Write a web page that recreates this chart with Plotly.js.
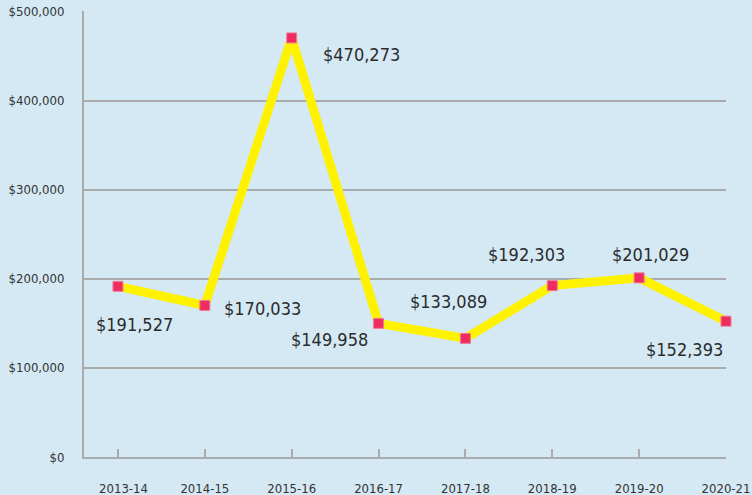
<!DOCTYPE html>
<html>
<head>
<meta charset="utf-8">
<script src="https://cdn.plot.ly/plotly-3.0.1.min.js"></script>
<style>html,body{margin:0;padding:0;background:#d4e9f4;}#chart{width:752px;height:495px;}</style>
</head>
<body>
<div id="chart"></div>
<script>
// Data
const years = ["2013-14","2014-15","2015-16","2016-17","2017-18","2018-19","2019-20","2020-21"];
const amounts = [191527, 170033, 470273, 149958, 133089, 192303, 201029, 152393];
const valueLabels = ["$191,527","$170,033","$470,273","$149,958","$133,089","$192,303","$201,029","$152,393"];
const yTickVals = [0, 100000, 200000, 300000, 400000, 500000];
const yTickText = ["$0","$100,000","$200,000","$300,000","$400,000","$500,000"];

// Label pixel offsets (style only)
const labelShiftX = [17, 58, 70, -49, -17, -26, 11, -42];
const labelShiftY = [-38, -3, -17, -16, 37, 31, 23, -28];

const FONT = "'DejaVu Sans Condensed', 'Liberation Sans Narrow', sans-serif";
const GRAY = "#a9abad";
const NB = "\u00a0\u00a0\u00a0";

// x tick text: first label nudged right like the reference
const xTickText = years.map((y, i) => i === 0 ? NB + y : y);

const trace = {
  type: "scatter",
  mode: "lines+markers",
  x: years,
  y: amounts,
  cliponaxis: false,
  line: {color: "#fff200", width: 9},
  marker: {symbol: "square", size: 10, color: "#ee2c5e", line: {color: "#f07a9a", width: 1}},
  hoverinfo: "x+y"
};

const annotations = years.map((yr, i) => ({
  x: yr, y: amounts[i], xref: "x", yref: "y",
  text: valueLabels[i], showarrow: false,
  xanchor: "center", yanchor: "middle",
  xshift: labelShiftX[i], yshift: labelShiftY[i],
  font: {family: FONT, size: 18, color: "#2b2b2b"}
}));

const layout = {
  width: 752, height: 495,
  paper_bgcolor: "#d4e9f4",
  plot_bgcolor: "#d4e9f4",
  margin: {l: 84, r: 26, t: 11, b: 38, pad: 0},
  showlegend: false,
  font: {family: FONT, color: "#333333", size: 13},
  xaxis: {
    type: "category",
    range: [-0.391, 7],
    tickvals: years, ticktext: xTickText,
    showgrid: false,
    zeroline: false,
    showline: true, linecolor: GRAY, linewidth: 2,
    ticks: "inside", ticklen: 8, tickwidth: 2, tickcolor: GRAY,
    ticklabelstandoff: 18,
    tickfont: {family: FONT, size: 13, color: "#333333"},
    fixedrange: true
  },
  yaxis: {
    range: [0, 500500],
    tickvals: yTickVals, ticktext: yTickText,
    showgrid: true, gridcolor: GRAY, gridwidth: 2,
    zeroline: false,
    showline: true, linecolor: GRAY, linewidth: 2,
    ticks: "",
    ticklabelstandoff: 15,
    tickfont: {family: FONT, size: 13, color: "#333333"},
    fixedrange: true
  },
  annotations: annotations
};

Plotly.newPlot("chart", [trace], layout, {displayModeBar: false, staticPlot: true});
</script>
</body>
</html>
